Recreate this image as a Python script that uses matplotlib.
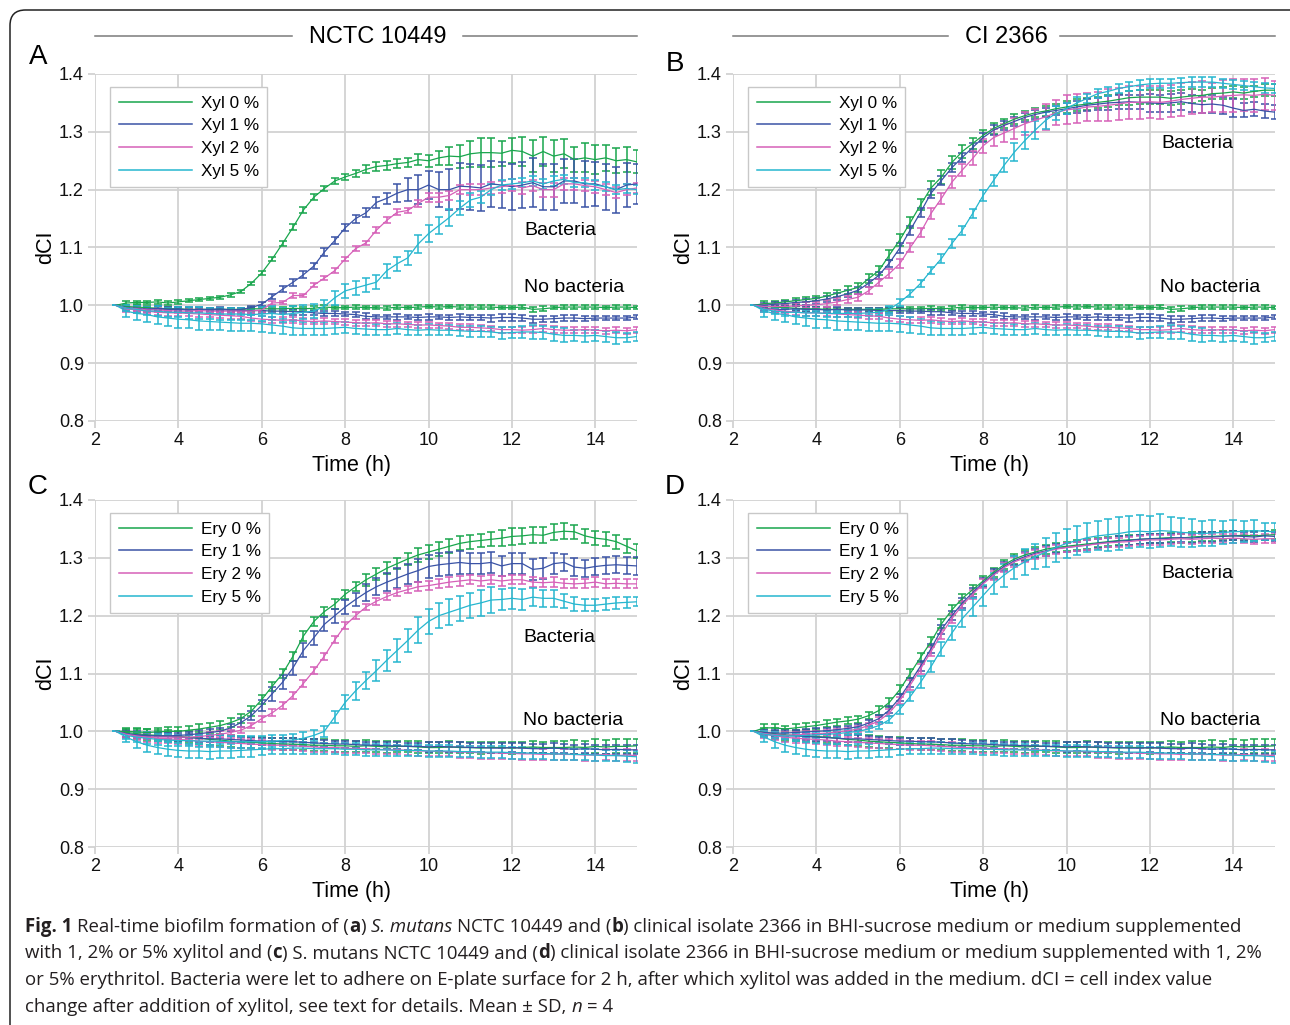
import numpy as np
import matplotlib
matplotlib.use("Agg")
import matplotlib.pyplot as plt
from matplotlib.lines import Line2D
from matplotlib.patches import FancyBboxPatch
from matplotlib import font_manager

plt.rcParams['font.family'] = ['Liberation Sans', 'DejaVu Sans']

W, H = 1290, 1025

colors = ['#19a64d', '#3a53a6', '#d660b8', '#26b6cf']
pct = ['0', '1', '2', '5']

# ---- Panel A: NCTC 10449 + xylitol (bacteria) ----
a_bac = [
    [1.0, 1.004, 1.005, 1.005, 1.006, 1.004, 1.006, 1.008, 1.010, 1.012, 1.014, 1.018, 1.024, 1.038, 1.056, 1.080, 1.107,
     1.135, 1.165, 1.187, 1.202, 1.215, 1.222, 1.228, 1.235, 1.240, 1.242, 1.245, 1.247, 1.252, 1.250, 1.255, 1.258, 1.257,
     1.262, 1.264, 1.264, 1.263, 1.268, 1.266, 1.258, 1.266, 1.258, 1.262, 1.252, 1.255, 1.252, 1.255, 1.250, 1.252, 1.248],
    [1.0, 0.996, 0.995, 0.993, 0.995, 0.993, 0.994, 0.992, 0.993, 0.993, 0.994, 0.992, 0.993, 0.996, 1.002, 1.015, 1.028,
     1.040, 1.053, 1.068, 1.092, 1.112, 1.134, 1.150, 1.160, 1.178, 1.185, 1.194, 1.200, 1.200, 1.208, 1.200, 1.200, 1.206,
     1.205, 1.203, 1.210, 1.208, 1.205, 1.208, 1.212, 1.205, 1.205, 1.215, 1.215, 1.210, 1.210, 1.205, 1.200, 1.208, 1.210],
    [1.0, 0.995, 0.994, 0.992, 0.992, 0.991, 0.990, 0.990, 0.991, 0.990, 0.990, 0.990, 0.990, 0.990, 0.992, 1.004, 1.005,
     1.017, 1.017, 1.035, 1.047, 1.060, 1.080, 1.098, 1.108, 1.130, 1.147, 1.161, 1.164, 1.176, 1.187, 1.187, 1.190, 1.200,
     1.200, 1.200, 1.203, 1.205, 1.208, 1.203, 1.207, 1.200, 1.200, 1.210, 1.210, 1.207, 1.205, 1.200, 1.195, 1.200, 1.203],
    [1.0, 0.995, 0.993, 0.990, 0.990, 0.988, 0.988, 0.987, 0.987, 0.986, 0.985, 0.985, 0.985, 0.984, 0.985, 0.986, 0.984,
     0.986, 0.988, 0.990, 0.998, 1.013, 1.025, 1.030, 1.035, 1.040, 1.060, 1.072, 1.082, 1.106, 1.124, 1.138, 1.152, 1.168,
     1.182, 1.187, 1.200, 1.208, 1.210, 1.212, 1.215, 1.210, 1.215, 1.218, 1.212, 1.212, 1.208, 1.205, 1.200, 1.202, 1.200],
]
a_bac_sd = [  # x 0.001
    [0, 3, 3, 3, 4, 3, 3, 3, 3, 3, 3, 3, 3, 3, 4, 4, 4, 5, 5, 5, 5, 5, 5, 6, 7, 7, 8, 8, 8, 9, 10, 12, 15, 20, 22, 25, 25,
     22, 22, 25, 28, 25, 28, 25, 22, 25, 25, 22, 22, 22, 20],
    [0, 3, 3, 3, 3, 3, 3, 3, 3, 3, 3, 3, 3, 3, 3, 4, 5, 6, 6, 6, 7, 6, 6, 7, 8, 10, 10, 15, 20, 25, 25, 30, 35, 40, 40, 40,
     40, 40, 40, 40, 42, 40, 40, 38, 38, 40, 38, 40, 40, 38, 35],
    [0, 3, 3, 3, 3, 3, 3, 3, 3, 3, 3, 3, 3, 3, 3, 4, 3, 4, 3, 4, 4, 4, 4, 4, 4, 5, 5, 5, 5, 6, 8, 8, 8, 8, 10, 10, 10, 10,
     10, 10, 10, 12, 12, 10, 10, 10, 10, 10, 10, 10, 8],
    [0, 5, 6, 7, 8, 8, 9, 10, 10, 10, 10, 10, 10, 10, 12, 12, 12, 12, 12, 12, 12, 12, 12, 12, 12, 12, 12, 12, 12, 15, 15,
     15, 15, 12, 12, 10, 10, 8, 8, 8, 8, 8, 8, 8, 8, 8, 8, 8, 8, 8, 8],
]

# ---- Panel B: CI 2366 + xylitol (bacteria) ----
b_bac = [
    [1.0, 1.003, 1.004, 1.006, 1.008, 1.010, 1.012, 1.016, 1.021, 1.026, 1.031, 1.046, 1.060, 1.087, 1.113, 1.143, 1.174,
     1.203, 1.222, 1.247, 1.266, 1.280, 1.294, 1.306, 1.314, 1.322, 1.328, 1.333, 1.336, 1.340, 1.343, 1.346, 1.348, 1.351,
     1.353, 1.356, 1.359, 1.360, 1.360, 1.360, 1.358, 1.360, 1.362, 1.363, 1.366, 1.367, 1.369, 1.367, 1.370, 1.372, 1.372],
    [1.0, 1.000, 1.002, 1.003, 1.005, 1.006, 1.008, 1.011, 1.015, 1.020, 1.026, 1.038, 1.052, 1.073, 1.099, 1.130, 1.161,
     1.194, 1.216, 1.238, 1.256, 1.273, 1.290, 1.303, 1.311, 1.318, 1.325, 1.330, 1.334, 1.337, 1.340, 1.343, 1.346, 1.348,
     1.350, 1.351, 1.352, 1.351, 1.350, 1.349, 1.350, 1.352, 1.349, 1.347, 1.348, 1.346, 1.341, 1.337, 1.339, 1.336, 1.334],
    [1.0, 0.998, 0.998, 0.998, 0.999, 1.000, 1.001, 1.003, 1.006, 1.010, 1.014, 1.025, 1.040, 1.055, 1.072, 1.100, 1.126,
     1.159, 1.185, 1.213, 1.234, 1.254, 1.276, 1.290, 1.298, 1.306, 1.314, 1.320, 1.326, 1.333, 1.338, 1.340, 1.343, 1.344,
     1.346, 1.348, 1.351, 1.351, 1.352, 1.351, 1.353, 1.356, 1.358, 1.360, 1.360, 1.362, 1.363, 1.364, 1.363, 1.365, 1.363],
    [1.0, 0.993, 0.990, 0.988, 0.988, 0.987, 0.987, 0.986, 0.986, 0.986, 0.986, 0.987, 0.988, 0.993, 1.005, 1.020, 1.038,
     1.060, 1.081, 1.107, 1.130, 1.159, 1.190, 1.216, 1.242, 1.265, 1.285, 1.303, 1.320, 1.332, 1.340, 1.350, 1.358, 1.366,
     1.370, 1.375, 1.378, 1.381, 1.383, 1.384, 1.384, 1.385, 1.386, 1.386, 1.386, 1.384, 1.382, 1.380, 1.378, 1.376, 1.375],
]
b_bac_sd = [
    [0, 4, 4, 4, 5, 5, 5, 6, 6, 7, 8, 8, 8, 8, 10, 10, 10, 12, 12, 12, 12, 10, 10, 10, 8, 8, 8, 8, 8, 8, 10, 10, 10, 10,
     10, 10, 12, 12, 12, 12, 12, 12, 12, 10, 10, 10, 10, 10, 10, 10, 10],
    [0, 4, 4, 4, 5, 5, 5, 6, 6, 6, 6, 6, 6, 6, 8, 8, 8, 8, 8, 8, 8, 8, 8, 8, 8, 8, 8, 8, 8, 8, 10, 10, 10, 10, 12, 12, 12,
     12, 15, 15, 15, 15, 15, 15, 15, 15, 15, 12, 12, 12, 12],
    [0, 4, 4, 4, 5, 5, 5, 6, 6, 6, 6, 6, 6, 8, 8, 8, 8, 10, 10, 10, 10, 12, 12, 15, 15, 18, 20, 20, 22, 22, 25, 25, 25, 25,
     28, 28, 28, 28, 28, 28, 28, 28, 28, 28, 25, 28, 28, 28, 28, 28, 25],
    [0, 5, 5, 6, 6, 6, 6, 6, 6, 6, 6, 6, 6, 6, 6, 6, 6, 6, 8, 8, 8, 8, 10, 10, 12, 15, 15, 15, 15, 12, 10, 10, 8, 8, 8, 8,
     8, 8, 8, 8, 8, 8, 8, 8, 8, 8, 8, 8, 8, 8, 8],
]

# ---- No bacteria wells, xylitol (A and B) ----
ab_nob = [
    [1.0, 0.998, 0.997, 0.996, 0.995, 0.994, 0.994, 0.993, 0.993, 0.993, 0.993, 0.993, 0.993, 0.994, 0.994, 0.994, 0.994,
     0.995, 0.994, 0.995, 0.997, 0.996, 0.996, 0.997, 0.996, 0.996, 0.995, 0.997, 0.996, 0.997, 0.998, 0.997, 0.998, 0.997,
     0.997, 0.997, 0.997, 0.996, 0.996, 0.997, 0.993, 0.994, 0.996, 0.997, 0.997, 0.997, 0.997, 0.996, 0.997, 0.997, 0.996],
    [1.0, 0.995, 0.993, 0.993, 0.994, 0.993, 0.993, 0.992, 0.993, 0.992, 0.992, 0.992, 0.991, 0.991, 0.991, 0.990, 0.990,
     0.989, 0.989, 0.987, 0.986, 0.986, 0.985, 0.984, 0.981, 0.980, 0.980, 0.980, 0.980, 0.979, 0.980, 0.980, 0.979, 0.980,
     0.979, 0.979, 0.978, 0.979, 0.979, 0.978, 0.976, 0.976, 0.977, 0.978, 0.978, 0.977, 0.978, 0.978, 0.978, 0.978, 0.980],
    [1.0, 0.994, 0.992, 0.990, 0.988, 0.987, 0.987, 0.986, 0.985, 0.984, 0.983, 0.982, 0.981, 0.978, 0.976, 0.975, 0.974,
     0.975, 0.973, 0.972, 0.973, 0.972, 0.971, 0.970, 0.969, 0.970, 0.968, 0.968, 0.967, 0.966, 0.966, 0.965, 0.964, 0.962,
     0.962, 0.961, 0.960, 0.958, 0.958, 0.957, 0.958, 0.960, 0.958, 0.957, 0.957, 0.958, 0.957, 0.956, 0.957, 0.956, 0.958],
    [1.0, 0.990, 0.986, 0.984, 0.980, 0.978, 0.976, 0.975, 0.973, 0.972, 0.971, 0.970, 0.969, 0.969, 0.968, 0.966, 0.964,
     0.961, 0.960, 0.960, 0.960, 0.961, 0.962, 0.960, 0.959, 0.958, 0.958, 0.960, 0.958, 0.957, 0.958, 0.957, 0.957, 0.956,
     0.955, 0.955, 0.954, 0.952, 0.953, 0.954, 0.954, 0.953, 0.950, 0.948, 0.948, 0.947, 0.948, 0.946, 0.944, 0.944, 0.946],
]
ab_nob_sd = [
    [0, 3, 3, 3, 3, 3, 3, 3, 3, 3, 3, 3, 3, 3, 3, 3, 3, 3, 3, 3, 4, 3, 3, 3, 3, 3, 3, 4, 3, 3, 3, 3, 3, 3, 4, 3, 3, 3, 3,
     3, 4, 4, 3, 3, 3, 3, 3, 3, 3, 3, 3],
    [0, 4, 4, 4, 4, 4, 4, 5, 4, 4, 4, 4, 4, 4, 4, 4, 4, 5, 5, 4, 4, 4, 4, 4, 5, 4, 4, 5, 4, 5, 5, 4, 5, 5, 5, 5, 6, 6, 6,
     5, 6, 5, 5, 5, 5, 4, 4, 4, 4, 4, 4],
    [0, 5, 5, 5, 5, 5, 5, 5, 5, 5, 5, 5, 5, 5, 5, 5, 5, 5, 5, 5, 5, 5, 5, 5, 5, 5, 5, 5, 5, 5, 5, 5, 5, 5, 5, 5, 5, 5, 5,
     5, 6, 6, 6, 5, 5, 5, 5, 5, 5, 5, 5],
    [0, 10, 12, 12, 13, 14, 15, 15, 15, 15, 14, 14, 14, 14, 14, 14, 13, 12, 12, 12, 12, 10, 10, 10, 10, 10, 9, 9, 9, 9, 9,
     9, 9, 9, 9, 9, 9, 10, 10, 10, 12, 12, 12, 12, 10, 10, 10, 10, 10, 8, 8],
]

# ---- Panel C: NCTC 10449 + erythritol (bacteria) ----
c_bac = [
    [1.0, 1.000, 0.999, 0.998, 0.999, 1.000, 1.000, 1.002, 1.004, 1.007, 1.010, 1.015, 1.022, 1.035, 1.055, 1.078, 1.100,
     1.130, 1.165, 1.190, 1.207, 1.220, 1.237, 1.250, 1.262, 1.272, 1.282, 1.290, 1.298, 1.305, 1.310, 1.315, 1.320, 1.325,
     1.328, 1.330, 1.332, 1.334, 1.337, 1.338, 1.340, 1.339, 1.344, 1.346, 1.345, 1.338, 1.334, 1.332, 1.328, 1.320, 1.312],
    [1.0, 0.996, 0.993, 0.992, 0.992, 0.992, 0.993, 0.994, 0.996, 0.998, 1.000, 1.006, 1.015, 1.027, 1.045, 1.065, 1.085,
     1.110, 1.140, 1.162, 1.185, 1.200, 1.215, 1.228, 1.240, 1.250, 1.258, 1.265, 1.272, 1.278, 1.285, 1.288, 1.290, 1.292,
     1.290, 1.290, 1.292, 1.286, 1.290, 1.290, 1.280, 1.282, 1.290, 1.292, 1.284, 1.282, 1.285, 1.287, 1.288, 1.287, 1.286],
    [1.0, 0.995, 0.992, 0.990, 0.990, 0.990, 0.990, 0.990, 0.991, 0.993, 0.995, 0.998, 1.002, 1.010, 1.022, 1.032, 1.045,
     1.062, 1.083, 1.105, 1.130, 1.158, 1.183, 1.200, 1.215, 1.225, 1.233, 1.240, 1.245, 1.250, 1.252, 1.255, 1.258, 1.260,
     1.262, 1.260, 1.262, 1.260, 1.262, 1.262, 1.258, 1.257, 1.258, 1.256, 1.255, 1.256, 1.258, 1.255, 1.256, 1.255, 1.255],
    [1.0, 0.993, 0.990, 0.988, 0.986, 0.985, 0.984, 0.984, 0.983, 0.983, 0.983, 0.982, 0.982, 0.982, 0.982, 0.983, 0.984,
     0.985, 0.988, 0.993, 1.000, 1.025, 1.050, 1.070, 1.088, 1.105, 1.123, 1.140, 1.157, 1.175, 1.190, 1.200, 1.206, 1.212,
     1.218, 1.222, 1.227, 1.228, 1.230, 1.228, 1.232, 1.230, 1.230, 1.225, 1.220, 1.218, 1.218, 1.220, 1.222, 1.223, 1.224],
]
c_bac_sd = [
    [0, 4, 5, 6, 7, 8, 8, 8, 8, 8, 8, 8, 8, 8, 8, 8, 8, 8, 8, 8, 8, 8, 8, 8, 10, 10, 10, 10, 10, 12, 12, 12, 12, 12, 12,
     12, 12, 14, 14, 14, 14, 14, 14, 14, 12, 12, 12, 12, 12, 12, 12],
    [0, 5, 5, 5, 5, 5, 5, 5, 6, 6, 6, 6, 8, 8, 10, 12, 12, 12, 12, 12, 12, 12, 12, 12, 15, 15, 15, 18, 18, 20, 20, 20, 20,
     20, 18, 18, 18, 18, 18, 18, 18, 18, 18, 15, 15, 15, 15, 15, 15, 15, 15],
    [0, 4, 4, 4, 4, 4, 4, 4, 4, 5, 5, 5, 5, 5, 5, 6, 6, 6, 6, 6, 6, 6, 6, 6, 6, 6, 6, 6, 6, 8, 8, 8, 8, 8, 8, 8, 8, 8, 8,
     8, 8, 8, 8, 8, 8, 8, 8, 8, 8, 8, 8],
    [0, 6, 8, 10, 10, 10, 10, 10, 10, 10, 10, 10, 10, 10, 10, 10, 10, 10, 10, 10, 10, 10, 12, 15, 15, 18, 18, 20, 20, 22,
     22, 22, 22, 22, 22, 22, 22, 18, 18, 18, 15, 15, 15, 12, 12, 10, 10, 10, 10, 10, 8],
]

# ---- Panel D: CI 2366 + erythritol (bacteria) ----
d_bac = [
    [1.0, 1.006, 1.006, 1.004, 1.006, 1.008, 1.010, 1.013, 1.016, 1.018, 1.021, 1.027, 1.036, 1.050, 1.072, 1.100, 1.128,
     1.155, 1.186, 1.210, 1.230, 1.245, 1.260, 1.275, 1.288, 1.298, 1.305, 1.310, 1.315, 1.318, 1.320, 1.322, 1.324, 1.326,
     1.328, 1.330, 1.331, 1.332, 1.333, 1.334, 1.335, 1.334, 1.336, 1.337, 1.337, 1.338, 1.338, 1.339, 1.338, 1.339, 1.340],
    [1.0, 0.998, 0.997, 0.997, 0.998, 0.999, 1.000, 1.001, 1.003, 1.005, 1.008, 1.014, 1.022, 1.037, 1.058, 1.085, 1.113,
     1.143, 1.176, 1.200, 1.222, 1.240, 1.257, 1.272, 1.285, 1.295, 1.302, 1.308, 1.312, 1.316, 1.318, 1.320, 1.322, 1.325,
     1.327, 1.329, 1.330, 1.332, 1.333, 1.333, 1.334, 1.335, 1.334, 1.336, 1.336, 1.337, 1.338, 1.337, 1.336, 1.338, 1.337],
    [1.0, 0.996, 0.994, 0.993, 0.994, 0.995, 0.996, 0.997, 0.999, 1.001, 1.004, 1.010, 1.018, 1.032, 1.053, 1.080, 1.108,
     1.138, 1.168, 1.195, 1.218, 1.237, 1.255, 1.270, 1.283, 1.293, 1.300, 1.306, 1.311, 1.315, 1.318, 1.320, 1.322, 1.324,
     1.326, 1.327, 1.328, 1.330, 1.331, 1.331, 1.332, 1.333, 1.332, 1.333, 1.334, 1.333, 1.334, 1.333, 1.332, 1.333, 1.333],
    [1.0, 0.995, 0.993, 0.992, 0.992, 0.993, 0.994, 0.995, 0.996, 0.998, 1.000, 1.004, 1.010, 1.020, 1.038, 1.060, 1.085,
     1.112, 1.142, 1.170, 1.195, 1.215, 1.235, 1.255, 1.270, 1.283, 1.293, 1.302, 1.310, 1.318, 1.325, 1.330, 1.335, 1.338,
     1.340, 1.342, 1.345, 1.346, 1.345, 1.347, 1.346, 1.344, 1.343, 1.342, 1.343, 1.344, 1.345, 1.346, 1.347, 1.346, 1.345],
]
d_bac_sd = [
    [0, 6, 6, 6, 6, 6, 6, 6, 6, 6, 6, 6, 8, 8, 8, 8, 8, 8, 8, 8, 8, 8, 8, 8, 8, 8, 8, 8, 8, 8, 8, 8, 8, 8, 8, 8, 8, 8, 8,
     8, 8, 8, 8, 8, 8, 8, 8, 8, 8, 8, 8],
    [0, 5, 5, 5, 5, 5, 5, 5, 5, 5, 5, 5, 6, 6, 6, 8, 8, 8, 8, 8, 8, 8, 8, 8, 8, 8, 8, 8, 8, 8, 8, 8, 8, 8, 8, 8, 8, 8, 8,
     8, 8, 8, 8, 8, 8, 8, 8, 8, 8, 8, 8],
    [0, 5, 5, 5, 5, 5, 5, 5, 5, 5, 5, 5, 6, 6, 6, 8, 8, 8, 8, 8, 8, 8, 8, 8, 8, 8, 8, 8, 8, 8, 8, 8, 8, 8, 8, 8, 8, 8, 8,
     8, 8, 8, 8, 8, 8, 8, 8, 8, 8, 8, 8],
    [0, 5, 5, 5, 5, 5, 5, 5, 5, 5, 5, 5, 6, 6, 8, 8, 10, 10, 12, 12, 15, 15, 18, 18, 20, 20, 22, 22, 25, 25, 25, 25, 25,
     25, 28, 28, 28, 28, 28, 28, 25, 25, 25, 22, 22, 20, 20, 18, 18, 15, 15],
]

# ---- No bacteria wells, erythritol (C and D) ----
cd_nob = [
    [1.0, 0.998, 0.996, 0.994, 0.993, 0.992, 0.991, 0.990, 0.988, 0.986, 0.985, 0.983, 0.982, 0.981, 0.980, 0.979, 0.978,
     0.978, 0.977, 0.976, 0.976, 0.975, 0.975, 0.974, 0.975, 0.974, 0.973, 0.974, 0.974, 0.973, 0.972, 0.972, 0.973, 0.972,
     0.972, 0.971, 0.972, 0.972, 0.971, 0.972, 0.973, 0.972, 0.972, 0.972, 0.973, 0.972, 0.974, 0.973, 0.974, 0.974, 0.975],
    [1.0, 0.996, 0.994, 0.993, 0.992, 0.991, 0.990, 0.989, 0.988, 0.987, 0.987, 0.986, 0.985, 0.984, 0.983, 0.983, 0.982,
     0.982, 0.981, 0.980, 0.979, 0.978, 0.978, 0.977, 0.976, 0.976, 0.975, 0.975, 0.974, 0.974, 0.973, 0.974, 0.973, 0.973,
     0.972, 0.972, 0.971, 0.971, 0.972, 0.971, 0.970, 0.970, 0.971, 0.970, 0.969, 0.970, 0.969, 0.968, 0.969, 0.968, 0.968],
    [1.0, 0.995, 0.992, 0.990, 0.988, 0.987, 0.986, 0.985, 0.983, 0.982, 0.981, 0.980, 0.979, 0.978, 0.977, 0.976, 0.976,
     0.975, 0.974, 0.973, 0.972, 0.972, 0.971, 0.970, 0.970, 0.969, 0.968, 0.968, 0.967, 0.966, 0.966, 0.965, 0.965, 0.964,
     0.964, 0.963, 0.963, 0.962, 0.962, 0.961, 0.961, 0.960, 0.961, 0.960, 0.960, 0.959, 0.959, 0.960, 0.958, 0.959, 0.958],
    [1.0, 0.990, 0.982, 0.976, 0.972, 0.969, 0.967, 0.966, 0.966, 0.965, 0.966, 0.966, 0.967, 0.968, 0.969, 0.970, 0.970,
     0.971, 0.971, 0.970, 0.970, 0.970, 0.969, 0.969, 0.968, 0.968, 0.968, 0.967, 0.967, 0.967, 0.966, 0.966, 0.966, 0.965,
     0.965, 0.964, 0.964, 0.964, 0.963, 0.963, 0.962, 0.962, 0.961, 0.961, 0.960, 0.960, 0.959, 0.958, 0.958, 0.957, 0.956],
]
cd_nob_sd = [
    [0, 8, 10, 10, 10, 10, 10, 10, 10, 10, 10, 10, 10, 10, 10, 10, 10, 10, 10, 10, 10, 10, 10, 10, 10, 10, 10, 10, 10, 10,
     10, 10, 10, 10, 10, 10, 10, 10, 10, 10, 10, 10, 12, 12, 12, 12, 12, 12, 12, 12, 12],
    [0, 6, 6, 6, 6, 6, 6, 6, 6, 6, 6, 6, 6, 6, 6, 6, 6, 6, 6, 6, 6, 6, 6, 6, 6, 6, 6, 6, 6, 6, 8, 8, 8, 8, 8, 8, 8, 8, 8,
     8, 8, 8, 8, 8, 8, 8, 8, 8, 8, 8, 8],
    [0, 6, 7, 8, 8, 8, 8, 8, 8, 8, 8, 8, 8, 8, 8, 8, 8, 8, 8, 8, 8, 8, 8, 8, 8, 8, 8, 8, 8, 8, 8, 8, 8, 10, 10, 10, 10,
     10, 10, 10, 10, 10, 10, 10, 10, 10, 10, 10, 10, 10, 10],
    [0, 8, 10, 12, 12, 12, 12, 12, 12, 12, 12, 12, 12, 12, 10, 10, 10, 10, 10, 10, 10, 10, 10, 10, 10, 10, 10, 10, 10, 10,
     10, 10, 10, 10, 10, 10, 10, 10, 10, 10, 10, 10, 10, 10, 10, 10, 10, 10, 10, 10, 10],
]


def px(x, y):
    return x / W, 1 - y / H


fig = plt.figure(figsize=(W / 100, H / 100), dpi=100)

# outer rounded frame (runs off the right and bottom edges)
frame = FancyBboxPatch(px(10, 1040), 1300 / W, 1030 / H, boxstyle="round,pad=0,rounding_size=0.012",
                       transform=fig.transFigure, fill=False, edgecolor='#222222', linewidth=1.1,
                       clip_on=False, mutation_aspect=W / H)
fig.add_artist(frame)

panels = [
    ('A', 95, 74, a_bac, a_bac_sd, ab_nob, ab_nob_sd, 'Xyl', (13.17, 1.13), (13.49, 1.031), (38, 55)),
    ('B', 733, 74, b_bac, b_bac_sd, ab_nob, ab_nob_sd, 'Xyl', (13.13, 1.28), (13.44, 1.031), (675, 62)),
    ('C', 95, 500, c_bac, c_bac_sd, cd_nob, cd_nob_sd, 'Ery', (13.15, 1.163), (13.46, 1.019), (38, 485)),
    ('D', 733, 500, d_bac, d_bac_sd, cd_nob, cd_nob_sd, 'Ery', (13.13, 1.273), (13.44, 1.019), (675, 485)),
]

for letter, left, top, bac, bac_sd, nob, nob_sd, sugar, pos_b, pos_nb, pos_l in panels:
    x0, y0 = px(left, top + 347)
    ax = fig.add_axes([x0, y0, 542 / W, 347 / H])
    for series, sds in ((nob, nob_sd), (bac, bac_sd)):
        for k in range(4):
            y = np.array(series[k])
            e = np.array(sds[k][:len(y)]) / 1000.0
            t = 2.5 + 0.25 * np.arange(len(y))
            ax.errorbar(t, y, yerr=e, color=colors[k], lw=0.9, elinewidth=1.1, capsize=2.6, capthick=1.1)
    ax.set_xlim(2, 15)
    ax.set_ylim(0.8, 1.4)
    ax.set_xticks([2, 4, 6, 8, 10, 12, 14])
    ax.set_yticks([0.8, 0.9, 1.0, 1.1, 1.2, 1.3, 1.4])
    ax.set_yticklabels(['0.8', '0.9', '1.0', '1.1', '1.2', '1.3', '1.4'])
    ax.grid(True, color='#d2d2d2', lw=1.3)
    ax.set_axisbelow(True)
    for s in ax.spines.values():
        s.set_visible(False)
    ax.tick_params(length=5, width=1.3, color='#d2d2d2', labelsize=13, pad=3, labelcolor='#111111')
    ax.set_xlabel('Time (h)', fontsize=15.5)
    ax.xaxis.set_label_coords((351 - 95) / 542, -0.098)
    ax.set_ylabel('dCI', fontsize=15.5, labelpad=2)
    ax.text(pos_b[0], pos_b[1], 'Bacteria', fontsize=14, ha='center', va='center')
    ax.text(pos_nb[0], pos_nb[1], 'No bacteria', fontsize=14, ha='center', va='center')
    handles = [Line2D([], [], color=colors[k], lw=1.1) for k in range(4)]
    labels = [f'{sugar} {p} %' for p in pct]
    leg = ax.legend(handles, labels, loc='upper left', bbox_to_anchor=(15 / 542, 1 - 13 / 347),
                    borderaxespad=0, fontsize=12.3, handlelength=4.3, handletextpad=0.5,
                    labelspacing=0.45, borderpad=0.5, fancybox=False, framealpha=1, edgecolor='#c8c8c8')
    leg.get_frame().set_linewidth(1.0)
    fig.text(*px(pos_l[0], pos_l[1] + 2), letter, fontsize=20, ha='center', va='center')

# column headers with side rules
for name, cx, l1, l2 in (('NCTC 10449', 378, (95, 292), (463, 637)), ('CI 2366', 1006, (733, 948), (1060, 1275))):
    fig.text(*px(cx, 37), name, fontsize=17, ha='center', va='center')
    for a, b in (l1, l2):
        fig.add_artist(Line2D([a / W, b / W], [1 - 36 / H] * 2, transform=fig.transFigure, color='#7a7a7a', lw=1.1))

# caption with mixed styles
cap_font = ['Open Sans', 'DejaVu Sans']
try:
    font_manager.findfont('Liberation Sans Narrow', fallback_to_default=False)
    cap_font = ['Liberation Sans Narrow', 'DejaVu Sans']
except Exception:
    pass
cap_size = 15.6 if cap_font[0] == 'Liberation Sans Narrow' else 13.4

caption = [
    [('Fig. 1', 'bold', 'normal'), (' Real-time biofilm formation of (', 'normal', 'normal'), ('a', 'bold', 'normal'),
     (') ', 'normal', 'normal'), ('S. mutans', 'normal', 'italic'),
     (' NCTC 10449 and (', 'normal', 'normal'), ('b', 'bold', 'normal'),
     (') clinical isolate 2366 in BHI-sucrose medium or medium supplemented', 'normal', 'normal')],
    [('with 1, 2% or 5% xylitol and (', 'normal', 'normal'), ('c', 'bold', 'normal'),
     (') S. mutans NCTC 10449 and (', 'normal', 'normal'), ('d', 'bold', 'normal'),
     (') clinical isolate 2366 in BHI-sucrose medium or medium supplemented with 1, 2%', 'normal', 'normal')],
    [('or 5% erythritol. Bacteria were let to adhere on E-plate surface for 2 h, after which xylitol was added in the '
      'medium. dCI = cell index value', 'normal', 'normal')],
    [('change after addition of xylitol, see text for details. Mean ± SD, ', 'normal', 'normal'),
     ('n', 'normal', 'italic'), (' = 4', 'normal', 'normal')],
]

fig.canvas.draw()
renderer = fig.canvas.get_renderer()


def text_w(s, weight, style):
    t = fig.text(0, 0, s, fontsize=cap_size, family=cap_font, weight=weight, style=style)
    w = t.get_window_extent(renderer).width
    t.remove()
    return w


space_w = text_w('a a', 'normal', 'normal') - text_w('aa', 'normal', 'normal')

for i, line in enumerate(caption):
    x = 25.0
    yb = 927 + i * 26.5
    for s, weight, style in line:
        lead = len(s) - len(s.lstrip(' '))
        trail = len(s) - len(s.rstrip(' '))
        core = s.strip(' ')
        x += lead * space_w
        t = fig.text(x / W, 1 - yb / H, core, fontsize=cap_size, family=cap_font, weight=weight,
                     style=style, va='center', ha='left', color='#231f20')
        x += t.get_window_extent(renderer).width + trail * space_w

fig.savefig('out.png', dpi=100)
